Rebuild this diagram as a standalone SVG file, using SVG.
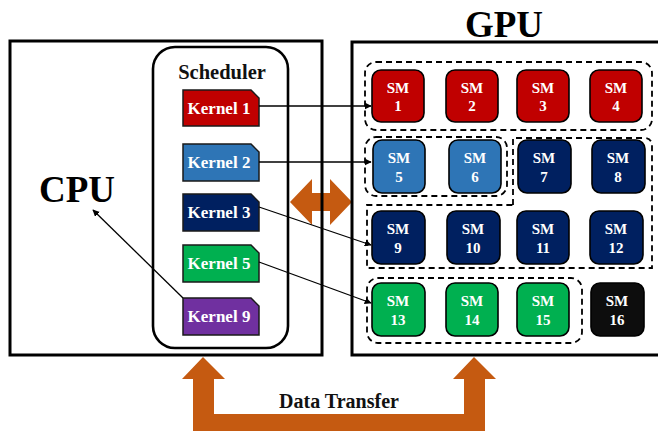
<svg xmlns="http://www.w3.org/2000/svg" width="658" height="431" viewBox="0 0 658 431">
  <defs>
    <marker id="arrow" viewBox="0 0 10 10" refX="9" refY="5" markerWidth="7" markerHeight="7" markerUnits="userSpaceOnUse" orient="auto">
      <path d="M0,0 L10,5 L0,10 z" fill="#000"/>
    </marker>
  </defs>
  <style>
    text { font-family: "Liberation Serif", "Times New Roman", serif; font-weight: bold; }
    .title { font-size: 37px; fill: #000; text-anchor: middle; }
    .sched { font-size: 20.5px; fill: #111; text-anchor: middle; }
    .ktext { font-size: 17px; fill: #fff; text-anchor: middle; }
    .smtext { font-size: 15px; fill: #fff; text-anchor: middle; }
    .box { fill: none; stroke: #000; stroke-width: 3; }
    .kernel { stroke: #1a1a1a; stroke-width: 1.5; }
    .sm { stroke: #000; stroke-width: 1.6; }
    .group { fill: none; stroke: #000; stroke-width: 1.8; stroke-dasharray: 6 4; }
    .link { fill: none; stroke: #000; stroke-width: 1.3; marker-end: url(#arrow); }
    .transfer { fill: #C55A11; }
    .red { fill: #C00000; }
    .blue { fill: #2E75B6; }
    .navy { fill: #002060; }
    .green { fill: #00B050; }
    .purple { fill: #7030A0; }
    .black { fill: #0D0D0D; }
  </style>

  <rect width="658" height="431" fill="#fff"/>

  <!-- data transfer path between host and device -->
  <g id="data-transfer">
    <polygon class="transfer" points="203,357 225,379 214,379 214,414 464,414 464,379 453,379 474,357 496,379 485,379 485,436 193,436 193,379 182,379"/>
    <text x="339" y="408" style="font-size:20px" text-anchor="middle" fill="#111">Data Transfer</text>
  </g>

  <!-- bidirectional link between CPU and GPU -->
  <g id="cpu-gpu-link">
    <polygon class="transfer" points="290,202 312,179 312,193 330,193 330,179 352,202 330,225 330,211 312,211 312,225"/>
  </g>

  <!-- CPU -->
  <g id="cpu">
    <rect class="box" x="10" y="41" width="312" height="314"/>
    <text class="title" x="77" y="202">CPU</text>
  </g>

  <!-- GPU -->
  <g id="gpu">
    <rect class="box" x="352" y="42" width="330" height="313"/>
    <text class="title" x="504" y="37">GPU</text>
  </g>

  <!-- Scheduler -->
  <g id="scheduler">
    <rect x="153" y="47" width="135" height="301" rx="22" fill="none" stroke="#000" stroke-width="2.6"/>
    <text class="sched" x="222" y="79">Scheduler</text>
  </g>

  <!-- kernels -->
  <g id="kernel-1">
    <polygon class="kernel red" points="183,90 251,90 259,98 259,126 183,126"/>
    <text class="ktext" x="219" y="114">Kernel 1</text>
  </g>
  <g id="kernel-2">
    <polygon class="kernel blue" points="183,144 251,144 259,152 259,181 183,181"/>
    <text class="ktext" x="219" y="168">Kernel 2</text>
  </g>
  <g id="kernel-3">
    <polygon class="kernel navy" points="183,194 251,194 259,202 259,231 183,231"/>
    <text class="ktext" x="219" y="218">Kernel 3</text>
  </g>
  <g id="kernel-5">
    <polygon class="kernel green" points="183,245 251,245 259,253 259,282 183,282"/>
    <text class="ktext" x="219" y="269">Kernel 5</text>
  </g>
  <g id="kernel-9">
    <polygon class="kernel purple" points="183,298 251,298 259,306 259,335 183,335"/>
    <text class="ktext" x="219" y="322">Kernel 9</text>
  </g>

  <!-- SM allocation groups -->
  <g id="sm-groups">
    <rect class="group" x="365" y="62" width="287" height="68" rx="11"/>
    <rect class="group" x="365" y="137" width="142" height="59" rx="11"/>
    <path class="group" d="M513,205 V138 H644 Q652,138 652,146 V268 H367 V205 Z"/>
    <rect class="group" x="367" y="278" width="215" height="65" rx="11"/>
  </g>

  <!-- streaming multiprocessors -->
  <g id="sm-1"><rect class="sm red" x="372" y="70" width="52" height="52" rx="9"/><text class="smtext" x="398" y="93">SM</text><text class="smtext" x="398" y="111">1</text></g>
  <g id="sm-2"><rect class="sm red" x="446" y="70" width="52" height="52" rx="9"/><text class="smtext" x="472" y="93">SM</text><text class="smtext" x="472" y="111">2</text></g>
  <g id="sm-3"><rect class="sm red" x="517" y="70" width="52" height="52" rx="9"/><text class="smtext" x="543" y="93">SM</text><text class="smtext" x="543" y="111">3</text></g>
  <g id="sm-4"><rect class="sm red" x="590" y="70" width="52" height="52" rx="9"/><text class="smtext" x="616" y="93">SM</text><text class="smtext" x="616" y="111">4</text></g>

  <g id="sm-5"><rect class="sm blue" x="373" y="140" width="52" height="53" rx="9"/><text class="smtext" x="399" y="163">SM</text><text class="smtext" x="399" y="182">5</text></g>
  <g id="sm-6"><rect class="sm blue" x="449" y="140" width="52" height="53" rx="9"/><text class="smtext" x="475" y="163">SM</text><text class="smtext" x="475" y="182">6</text></g>
  <g id="sm-7"><rect class="sm navy" x="518" y="140" width="53" height="53" rx="9"/><text class="smtext" x="544" y="163">SM</text><text class="smtext" x="544" y="182">7</text></g>
  <g id="sm-8"><rect class="sm navy" x="592" y="140" width="53" height="53" rx="9"/><text class="smtext" x="618" y="163">SM</text><text class="smtext" x="618" y="182">8</text></g>

  <g id="sm-9"><rect class="sm navy" x="372" y="211" width="53" height="53" rx="9"/><text class="smtext" x="398" y="234">SM</text><text class="smtext" x="398" y="253">9</text></g>
  <g id="sm-10"><rect class="sm navy" x="447" y="211" width="53" height="53" rx="9"/><text class="smtext" x="473" y="234">SM</text><text class="smtext" x="473" y="253">10</text></g>
  <g id="sm-11"><rect class="sm navy" x="517" y="211" width="52" height="53" rx="9"/><text class="smtext" x="543" y="234">SM</text><text class="smtext" x="543" y="253">11</text></g>
  <g id="sm-12"><rect class="sm navy" x="590" y="211" width="53" height="53" rx="9"/><text class="smtext" x="616" y="234">SM</text><text class="smtext" x="616" y="253">12</text></g>

  <g id="sm-13"><rect class="sm green" x="372" y="283" width="53" height="53" rx="9"/><text class="smtext" x="398" y="306">SM</text><text class="smtext" x="398" y="325">13</text></g>
  <g id="sm-14"><rect class="sm green" x="446" y="283" width="52" height="53" rx="9"/><text class="smtext" x="472" y="306">SM</text><text class="smtext" x="472" y="325">14</text></g>
  <g id="sm-15"><rect class="sm green" x="517" y="283" width="52" height="53" rx="9"/><text class="smtext" x="543" y="306">SM</text><text class="smtext" x="543" y="325">15</text></g>
  <g id="sm-16"><rect class="sm black" x="591" y="283" width="53" height="53" rx="9"/><text class="smtext" x="617" y="306">SM</text><text class="smtext" x="617" y="325">16</text></g>

  <!-- kernel dispatch connectors -->
  <g id="connectors">
    <line class="link" x1="259" y1="106" x2="371" y2="106"/>
    <line class="link" x1="259" y1="162" x2="371" y2="162"/>
    <line class="link" x1="259" y1="207" x2="371" y2="245"/>
    <line class="link" x1="259" y1="262" x2="371" y2="303"/>
    <line class="link" x1="183" y1="298" x2="93" y2="210"/>
  </g>
</svg>
